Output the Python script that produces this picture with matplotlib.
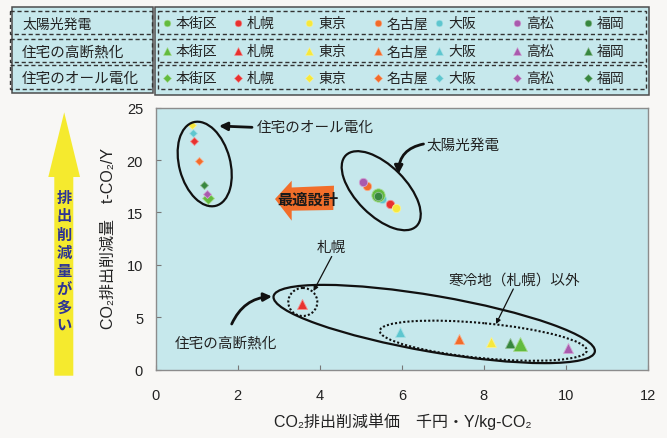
import matplotlib
matplotlib.use('Agg')
import matplotlib.pyplot as plt
from matplotlib.patches import Ellipse, Rectangle, Polygon
from matplotlib.colors import to_rgb
import numpy as np

plt.rcParams['font.family'] = ['Liberation Sans', 'Noto Sans CJK JP', 'DejaVu Sans']

# ---- data -------------------------------------------------------------
cities = ['本街区', '札幌', '東京', '名古屋', '大阪', '高松', '福岡']
city_colors = ['#62bb3e', '#e8312f', '#f6e83c', '#f26b2a', '#5ec6cf', '#a95aae', '#37873f']

measures = ['太陽光発電', '住宅の高断熱化', '住宅のオール電化']

# unit cost of CO2 reduction (thousand yen·Y/kg-CO2) and reduction (t-CO2/Y)
solar_cost = [5.43, 5.70, 5.85, 5.16, 5.51, 5.06, 5.43]
solar_cut = [16.7, 15.8, 15.4, 17.5, 16.3, 17.9, 16.6]
insul_cost = [8.88, 3.57, 8.17, 7.39, 5.96, 10.04, 8.64]
insul_cut = [2.45, 6.26, 2.67, 2.93, 3.62, 2.07, 2.52]
elec_cost = [1.28, 0.94, 0.89, 1.06, 0.92, 1.26, 1.19]
elec_cut = [16.4, 21.8, 23.3, 19.9, 22.6, 16.8, 17.6]

x_ticks = [0, 2, 4, 6, 8, 10, 12]
y_ticks = [0, 5, 10, 15, 20, 25]

# ---- figure -----------------------------------------------------------
W, H = 667, 439
BG = '#f8f7f5'
CYAN = '#c6e8ec'
fig = plt.figure(figsize=(W / 100, H / 100), dpi=100, facecolor=BG)

ax_l, ax_r, ax_t, ax_b = 155.6, 648.1, 108.6, 370.7
ax = fig.add_axes([ax_l / W, 1 - ax_b / H, (ax_r - ax_l) / W, (ax_b - ax_t) / H])
ax.set_facecolor(CYAN)
ax.set_xlim(0, 12)
ax.set_ylim(0, 25)
ax.set_xticks(x_ticks)
ax.set_yticks(y_ticks)
ax.tick_params(direction='in', length=3.5, width=0.8, color='#777777',
               labelsize=10.5, labelcolor='#222222')
ax.tick_params(axis='x', pad=13)
ax.tick_params(axis='y', pad=9)
for s in ax.spines.values():
    s.set_color('#8c8c8c')
    s.set_linewidth(1.0)

ax.text(0.501, -0.195, 'CO₂排出削減単価　千円・Y/kg-CO₂', transform=ax.transAxes,
        ha='center', va='center', fontsize=11.5, color='#222222')
ax.text(-0.096, 0.506, 'CO₂排出削減量　t-CO₂/Y', transform=ax.transAxes,
        ha='center', va='center', rotation=90, fontsize=11.5, color='#222222')


def soft_edge(c):
    r, g, b = to_rgb(c)
    return (r + (1 - r) * 0.45, g + (1 - g) * 0.45, b + (1 - b) * 0.45)


series = [
    (solar_cost, solar_cut, 'o', 6.0, 9.6, [4, 3, 5, 1, 2, 0, 6]),
    (insul_cost, insul_cut, '^', 6.5, 10.5, [1, 4, 3, 5, 2, 6, 0]),
    (elec_cost, elec_cut, 'D', 4.4, 6.4, [2, 4, 1, 3, 6, 0, 5]),
]
for xs, ys, mk, ms, ms_big, order in series:
    for i in order:
        size = ms_big if i == 0 else ms
        ax.plot(xs[i], ys[i], linestyle='none', marker=mk, markersize=size,
                color=city_colors[i], markeredgecolor=soft_edge(city_colors[i]),
                markeredgewidth=0.6, zorder=3)

# ---- overlay in pixel units (legend tables, callouts) -------------------
ov = fig.add_axes([0, 0, 1, 1], zorder=5)
ov.set_xlim(0, W)
ov.set_ylim(H, 0)
ov.axis('off')

# legend tables
ov.add_patch(Rectangle((12.3, 8.3), 140.4, 86, facecolor=CYAN, edgecolor='#4d4d4d', lw=1.1))
ov.add_patch(Rectangle((155.3, 8.3), 493.4, 87.7, facecolor=CYAN, edgecolor='#4d4d4d', lw=1.1))
row_tops = [11.7, 39.5, 66.3]
row_h = 23.3
dash = (0, (3, 2))
for top in row_tops:
    ov.add_patch(Rectangle((10, top), 141.7, row_h, fill=False, edgecolor='#333333',
                           lw=1.0, linestyle=dash))
    ov.add_patch(Rectangle((158, top), 487.5, row_h, fill=False, edgecolor='#333333',
                           lw=1.0, linestyle=dash))

label_sizes = [10, 10.5, 10.5]
legend_markers = [('o', 4.8), ('^', 5.2), ('D', 3.6)]
text_x = [176, 247, 318, 387, 448, 526, 597]
for r, (top, name) in enumerate(zip(row_tops, measures)):
    yc = top + row_h / 2 + 1
    ov.text(22, yc, name, ha='left', va='center', fontsize=label_sizes[r], color='#222222')
    mk, ms = legend_markers[r]
    for i, city in enumerate(cities):
        ov.plot(text_x[i] - 9.5, yc, marker=mk, markersize=ms, color=city_colors[i],
                markeredgecolor=soft_edge(city_colors[i]), markeredgewidth=0.4)
        ov.text(text_x[i], yc, city, ha='left', va='center', fontsize=10, color='#222222')

# yellow "more reduction" arrow
ov.add_patch(Polygon([(64.2, 113.3), (80, 178), (73.3, 178), (73.3, 376.7),
                      (54.3, 376.7), (54.3, 178), (48.3, 178)],
                     closed=True, facecolor='#f5ea2e', edgecolor='none'))
vert = '排出削減量が多い'
for k, ch in enumerate(vert):
    ov.text(64.2, 199 + k * 18.3, ch, ha='center', va='center', fontsize=11,
            fontweight='bold', color='#2e3494')

# orange "optimal design" arrow
ov.add_patch(Polygon([(275, 200), (291.7, 181.7), (291.7, 188.5), (334, 186.7),
                      (333.3, 211), (291.7, 211.7), (291.7, 221.7)],
                     closed=True, facecolor='#f26e2a', edgecolor='none'))
ov.text(307.5, 200.5, '最適設計', ha='center', va='center', fontsize=11,
        fontweight='bold', color='#1a1a1a')

# grouping ellipses
ell_kw = dict(fill=False, edgecolor='#111111', lw=1.6)
ov.add_patch(Ellipse((204.7, 165), 86.5, 51, angle=-105, **ell_kw))
ov.add_patch(Ellipse((381.2, 191.7), 100, 50, angle=45, **ell_kw))
ov.add_patch(Ellipse((434.2, 325), 326, 56, angle=9.8, **ell_kw))
dot_kw = dict(fill=False, edgecolor='#111111', lw=1.5, linestyle=(0, (1, 1)))
ov.add_patch(Ellipse((302.8, 303), 29, 28, angle=0, **dot_kw))
ov.add_patch(Ellipse((483.3, 341.7), 208, 35, angle=5.5, **dot_kw))

# callout labels and arrows
fs = 10.5
thick = dict(arrowstyle='-|>', lw=2.0, color='#111111', mutation_scale=12,
             shrinkA=0, shrinkB=0)
thin = dict(arrowstyle='-|>', lw=0.9, color='#111111', mutation_scale=7,
            shrinkA=0, shrinkB=0)

ov.text(256.7, 128.3, '住宅のオール電化', ha='left', va='center', fontsize=fs, color='#222222')
ov.annotate('', xy=(219, 127), xytext=(252, 128.3),
            arrowprops=dict(connectionstyle='arc3,rad=0', **thick))

ov.text(426, 147, '太陽光発電', ha='left', va='center', fontsize=fs, color='#222222')
ov.annotate('', xy=(398.5, 175), xytext=(423.5, 145),
            arrowprops=dict(connectionstyle='arc3,rad=0.4', **thick))

ov.text(330.8, 248.3, '札幌', ha='center', va='center', fontsize=fs, color='#222222')
ov.annotate('', xy=(313.5, 292), xytext=(331.7, 257.5),
            arrowprops=dict(connectionstyle='arc3,rad=0', **thin))

ov.text(514, 280.7, '寒冷地（札幌）以外', ha='center', va='center', fontsize=fs, color='#222222')
ov.annotate('', xy=(496, 325), xytext=(513.3, 290),
            arrowprops=dict(connectionstyle='arc3,rad=0', **thin))

ov.text(175, 344, '住宅の高断熱化', ha='left', va='center', fontsize=fs, color='#222222')
ov.annotate('', xy=(272, 297.5), xytext=(231.7, 325),
            arrowprops=dict(connectionstyle='arc3,rad=-0.3', **thick))

fig.savefig('out.png', dpi=100, facecolor=BG)
